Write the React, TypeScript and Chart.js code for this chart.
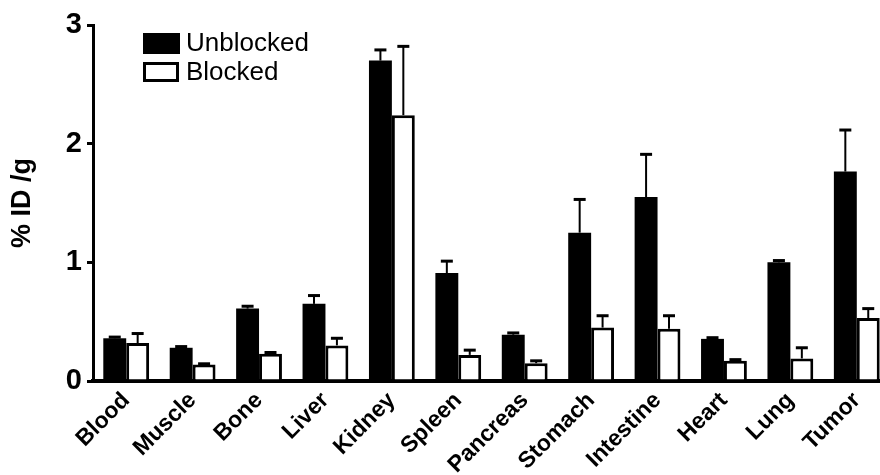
import React, { useEffect, useRef } from "react";
import { Chart, registerables } from "chart.js";

Chart.register(...registerables);

const categories = ["Blood", "Muscle", "Bone", "Liver", "Kidney", "Spleen", "Pancreas", "Stomach", "Intestine", "Heart", "Lung", "Tumor"];
const unblocked = [0.36, 0.28, 0.61, 0.65, 2.7, 0.91, 0.39, 1.25, 1.55, 0.355, 1.0, 1.765];
const unblockedErr = [0.01, 0.01, 0.02, 0.07, 0.09, 0.1, 0.015, 0.28, 0.36, 0.01, 0.015, 0.35];
const blocked = [0.32, 0.14, 0.23, 0.3, 2.24, 0.22, 0.15, 0.45, 0.44, 0.17, 0.19, 0.53];
const blockedErr = [0.08, 0.005, 0.01, 0.06, 0.58, 0.04, 0.02, 0.1, 0.11, 0.01, 0.09, 0.08];
const yTicks = [0, 1, 2, 3];
const seriesNames = ["Unblocked", "Blocked"];
const yTitle = "% ID /g";

const errors = [unblockedErr, blockedErr];

const errorBarPlugin = {
  id: "errorBars",
  afterDatasetsDraw(chart: any) {
    const ctx = chart.ctx;
    const yScale = chart.scales.y;
    chart.data.datasets.forEach((ds: any, di: number) => {
      const meta = chart.getDatasetMeta(di);
      meta.data.forEach((el: any, i: number) => {
        const v = ds.data[i];
        const e = errors[di][i];
        const yTop = yScale.getPixelForValue(v);
        const yErr = yScale.getPixelForValue(v + e);
        ctx.save();
        ctx.strokeStyle = "#000";
        ctx.lineWidth = 2;
        ctx.beginPath();
        ctx.moveTo(el.x, yTop);
        ctx.lineTo(el.x, yErr);
        ctx.stroke();
        ctx.lineWidth = 3;
        ctx.beginPath();
        ctx.moveTo(el.x - 6, yErr);
        ctx.lineTo(el.x + 6, yErr);
        ctx.stroke();
        ctx.restore();
      });
    });
  },
};

const legendPlugin = {
  id: "customLegend",
  afterDraw(chart: any) {
    const ctx = chart.ctx;
    const area = chart.chartArea;
    const x0 = area.left + 50;
    const y0 = area.top + 8;
    ctx.save();
    ctx.font = "26px 'Liberation Sans', Arial, sans-serif";
    ctx.textBaseline = "middle";
    ctx.fillStyle = "#000";
    chart.data.datasets.forEach((ds: any, i: number) => {
      const y = y0 + i * 29;
      if (i === 0) {
        ctx.fillStyle = "#000";
        ctx.fillRect(x0, y, 37, 21);
      } else {
        ctx.fillStyle = "#fff";
        ctx.fillRect(x0, y, 36, 20);
        ctx.strokeStyle = "#000";
        ctx.lineWidth = 3;
        ctx.strokeRect(x0 + 1.5, y + 1.5, 33, 17);
      }
      ctx.fillStyle = "#000";
      ctx.fillText(ds.label, x0 + 43, y + 11);
    });
    ctx.restore();
  },
};

export default function App() {
  const ref = useRef<HTMLCanvasElement>(null);
  useEffect(() => {
    document.documentElement.style.overflow = "hidden";
    const chart = new Chart(ref.current!, {
      type: "bar",
      data: {
        labels: categories,
        datasets: [
          {
            label: seriesNames[0],
            data: unblocked,
            backgroundColor: "#000",
            borderColor: "#000",
            borderWidth: 0,
          },
          {
            label: seriesNames[1],
            data: blocked,
            backgroundColor: "#fff",
            borderColor: "#000",
            borderWidth: 3,
          },
        ],
      },
      options: {
        responsive: false,
        animation: false,
        events: [],
        layout: { padding: { top: 25, right: 0, left: 0, bottom: 0 } },
        plugins: { legend: { display: false }, tooltip: { enabled: false } },
        datasets: { bar: { categoryPercentage: 0.69, barPercentage: 1.0 } },
        scales: {
          x: {
            type: "category",
            border: { display: true, color: "#000", width: 4 },
            grid: { display: false, drawTicks: false },
            ticks: {
              color: "#000",
              maxRotation: 45,
              minRotation: 45,
              padding: 6,
              font: { family: "'Liberation Sans', Arial, sans-serif", size: 23, weight: "bold" },
            },
            afterFit(scale: any) {
              scale.height = 94;
            },
          },
          y: {
            min: 0,
            max: 3,
            afterBuildTicks(scale: any) {
              scale.ticks = yTicks.map((v) => ({ value: v }));
            },
            border: { display: true, color: "#000", width: 3 },
            grid: { drawOnChartArea: false, drawTicks: true, tickLength: 6, color: "#000", lineWidth: 3 },
            ticks: {
              color: "#000",
              padding: 5,
              font: { family: "'Liberation Sans', Arial, sans-serif", size: 29, weight: "bold" },
            },
            title: {
              display: true,
              text: yTitle,
              color: "#000",
              padding: { top: 6, bottom: 0 },
              font: { family: "'Liberation Sans', Arial, sans-serif", size: 27, weight: "bold" },
            },
            afterFit(scale: any) {
              scale.width = 93;
            },
          },
        },
      },
      plugins: [errorBarPlugin, legendPlugin],
    });
    return () => chart.destroy();
  }, []);
  return (
    <div style={{ position: "fixed", left: 0, top: 0, width: 890, height: 475, background: "#fff" }}>
      <canvas ref={ref} width={890} height={475} style={{ display: "block" }} />
    </div>
  );
}
